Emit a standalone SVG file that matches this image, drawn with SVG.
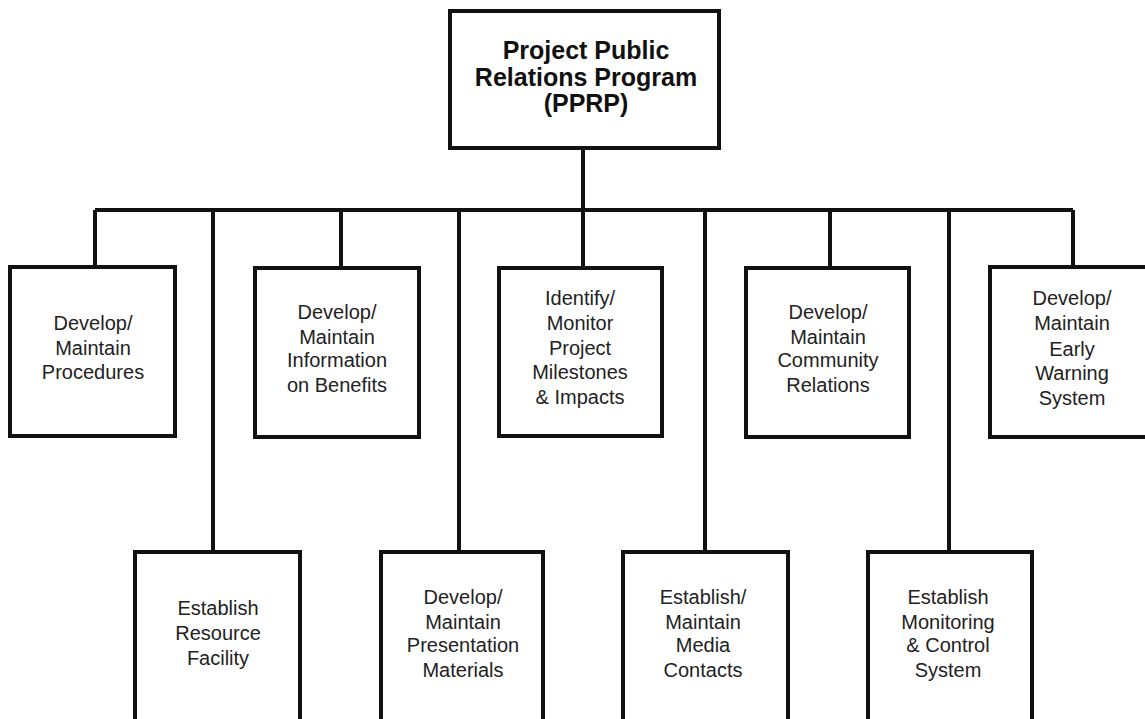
<svg xmlns="http://www.w3.org/2000/svg" width="1145" height="719" viewBox="0 0 1145 719">
<style>
.box{fill:#fff;stroke:#111;stroke-width:4}
.ln{fill:none;stroke:#111;stroke-width:4}
.t{font-family:"Liberation Sans",Arial,sans-serif;font-size:20px;fill:#222;text-anchor:middle}
.tb{font-family:"Liberation Sans",Arial,sans-serif;font-size:25px;font-weight:bold;fill:#111;text-anchor:middle}
</style>
<rect width="1145" height="719" fill="#fff"/>
<g id="connectors">
<path class="ln" d="M583,148 V210 M95,210 H1073"/>
<path class="ln" d="M95,210 V267 M341,210 V267 M583,210 V267 M830,210 V267 M1073,210 V267"/>
<path class="ln" d="M213,210 V552 M459,210 V552 M705,210 V552 M949,210 V552"/>
</g>
<g id="root">
<rect class="box" x="450" y="11" width="269" height="137"/>
<text class="tb" x="586" y="59">Project Public</text>
<text class="tb" x="586" y="86">Relations Program</text>
<text class="tb" x="586" y="112">(PPRP)</text>
</g>
<g id="n1">
<rect class="box" x="10" y="267" width="165" height="169"/>
<text class="t" x="93" y="330">Develop/</text>
<text class="t" x="93" y="355">Maintain</text>
<text class="t" x="93" y="379">Procedures</text>
</g>
<g id="n2">
<rect class="box" x="255" y="268" width="164" height="169"/>
<text class="t" x="337" y="319">Develop/</text>
<text class="t" x="337" y="344">Maintain</text>
<text class="t" x="337" y="367">Information</text>
<text class="t" x="337" y="392">on Benefits</text>
</g>
<g id="n3">
<rect class="box" x="499" y="268" width="163" height="168"/>
<text class="t" x="580" y="305">Identify/</text>
<text class="t" x="580" y="330">Monitor</text>
<text class="t" x="580" y="355">Project</text>
<text class="t" x="580" y="379">Milestones</text>
<text class="t" x="580" y="404">&amp; Impacts</text>
</g>
<g id="n4">
<rect class="box" x="746" y="268" width="163" height="169"/>
<text class="t" x="828" y="319">Develop/</text>
<text class="t" x="828" y="344">Maintain</text>
<text class="t" x="828" y="367">Community</text>
<text class="t" x="828" y="392">Relations</text>
</g>
<g id="n5">
<rect class="box" x="990" y="267" width="165" height="170"/>
<text class="t" x="1072" y="305">Develop/</text>
<text class="t" x="1072" y="330">Maintain</text>
<text class="t" x="1072" y="356">Early</text>
<text class="t" x="1072" y="380">Warning</text>
<text class="t" x="1072" y="405">System</text>
</g>
<g id="m1">
<rect class="box" x="135" y="552" width="165" height="175"/>
<text class="t" x="218" y="615">Establish</text>
<text class="t" x="218" y="640">Resource</text>
<text class="t" x="218" y="665">Facility</text>
</g>
<g id="m2">
<rect class="box" x="381" y="552" width="162" height="175"/>
<text class="t" x="463" y="604">Develop/</text>
<text class="t" x="463" y="629">Maintain</text>
<text class="t" x="463" y="652">Presentation</text>
<text class="t" x="463" y="677">Materials</text>
</g>
<g id="m3">
<rect class="box" x="623" y="552" width="165" height="175"/>
<text class="t" x="703" y="604">Establish/</text>
<text class="t" x="703" y="629">Maintain</text>
<text class="t" x="703" y="652">Media</text>
<text class="t" x="703" y="677">Contacts</text>
</g>
<g id="m4">
<rect class="box" x="868" y="552" width="164" height="175"/>
<text class="t" x="948" y="604">Establish</text>
<text class="t" x="948" y="629">Monitoring</text>
<text class="t" x="948" y="652">&amp; Control</text>
<text class="t" x="948" y="677">System</text>
</g>
</svg>
